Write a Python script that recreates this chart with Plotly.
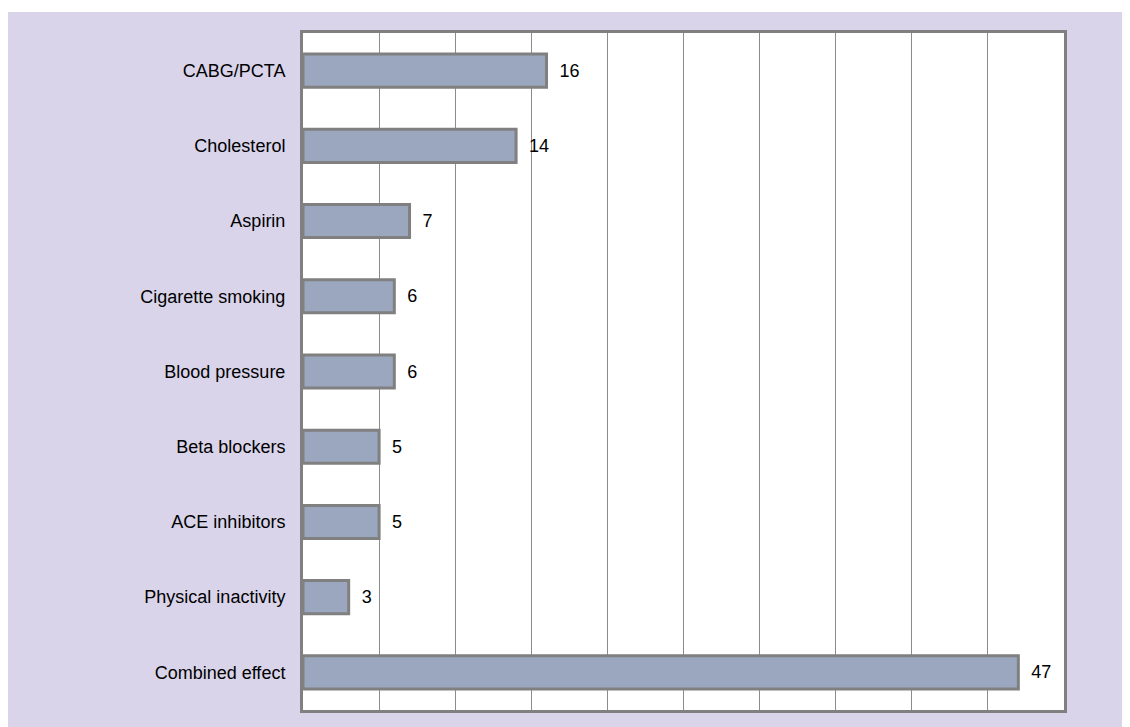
import plotly.graph_objects as go

# risk factor categories, top to bottom
factors = ["CABG/PCTA", "Cholesterol", "Aspirin", "Cigarette smoking",
           "Blood pressure", "Beta blockers", "ACE inhibitors",
           "Physical inactivity", "Combined effect"]
values = [16, 14, 7, 6, 6, 5, 5, 3, 47]

fig = go.Figure()

fig.add_trace(go.Bar(
    x=values, y=factors, orientation="h", width=0.44,
    marker=dict(color="#9BA7BE", line=dict(color="#808080", width=3)),
    text=["  " + str(v) for v in values], textposition="outside",
    textfont=dict(family="Liberation Sans, Arial", size=18, color="black"),
    cliponaxis=False,
))

# lavender panel behind everything, white plot area on top of it
fig.add_shape(type="rect", xref="paper", yref="paper", x0=-0.3877, x1=1.09,
              y0=-0.03, y1=1.031, fillcolor="#D9D4EA", line_width=0, layer="below")
fig.add_shape(type="rect", xref="paper", yref="paper", x0=0, x1=1, y0=0, y1=1,
              fillcolor="white", line_width=0, layer="below")

fig.update_layout(
    width=1122, height=719,
    margin=dict(l=295, r=66, t=25, b=17),
    paper_bgcolor="white", plot_bgcolor="white",
    showlegend=False,
    font=dict(family="Liberation Sans, Arial", size=18, color="black"),
)

fig.update_xaxes(range=[0, 50], dtick=5, showticklabels=False, ticks="",
                 showgrid=True, gridcolor="#8C8C8C", gridwidth=1,
                 showline=True, mirror=True, linecolor="#808080", linewidth=3,
                 zeroline=False)
fig.update_yaxes(autorange="reversed", showgrid=False, ticks="",
                 ticklabelstandoff=11,
                 showline=True, mirror=True, linecolor="#808080", linewidth=3)

fig.write_html("out.html")
